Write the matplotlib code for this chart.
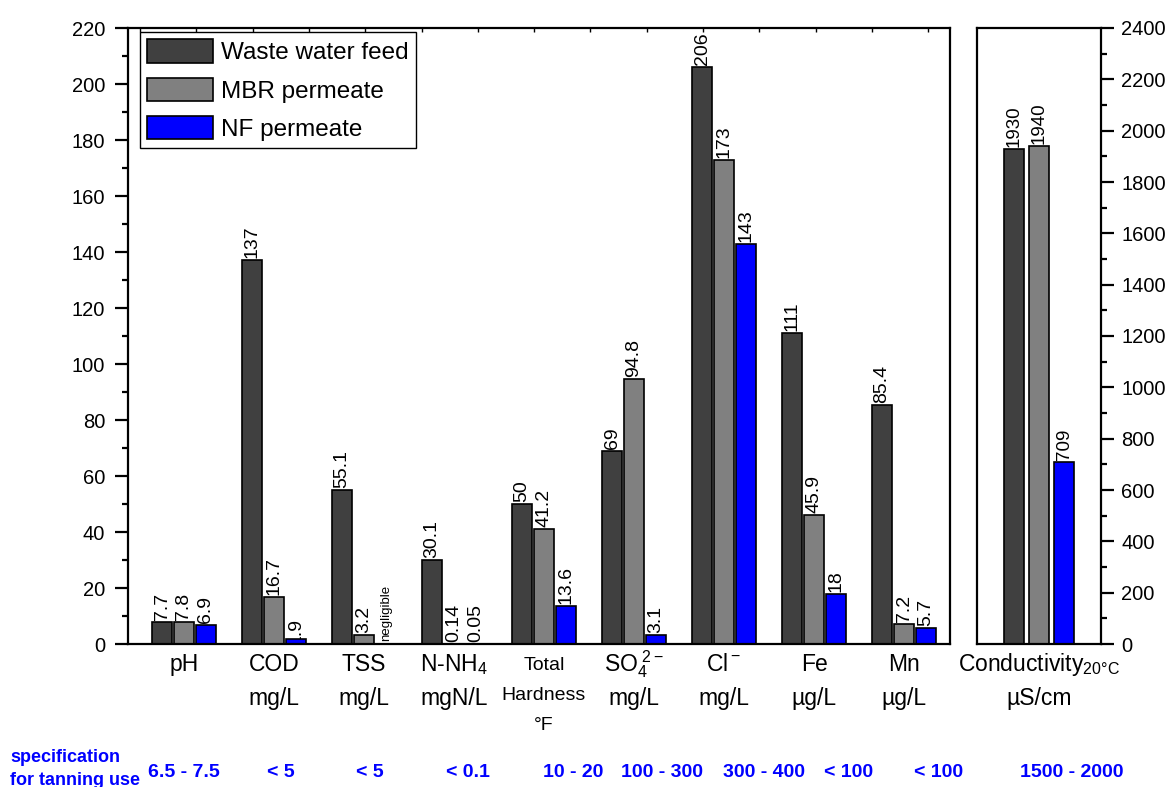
import matplotlib

matplotlib.use("Agg")
import matplotlib.pyplot as plt  # noqa: E402
import numpy as np  # noqa: E402
from matplotlib.patches import Patch  # noqa: E402
from matplotlib.ticker import MultipleLocator  # noqa: E402

plt.rcParams["font.family"] = ["Liberation Sans", "DejaVu Sans"]
plt.rcParams["mathtext.fontset"] = "custom"
plt.rcParams["mathtext.rm"] = "Liberation Sans"
plt.rcParams["mathtext.it"] = "Liberation Sans:italic"
plt.rcParams["mathtext.bf"] = "Liberation Sans:bold"

# ---- data -------------------------------------------------------------
SERIES = ["Waste water feed", "MBR permeate", "NF permeate"]
COLORS = ["#404040", "#808080", "#0000FF"]

CATEGORIES = ["pH", "COD", "TSS", "N-NH4", "Total Hardness", "SO4", "Cl", "Fe", "Mn"]
FEED = [7.7, 137, 55.1, 30.1, 50, 69, 206, 111, 85.4]
MBR = [7.8, 16.7, 3.2, 0.14, 41.2, 94.8, 173, 45.9, 7.2]
NF = [6.9, 1.9, 0.0, 0.05, 13.6, 3.1, 143, 18, 5.7]
FEED_LABELS = ["7.7", "137", "55.1", "30.1", "50", "69", "206", "111", "85.4"]
MBR_LABELS = ["7.8", "16.7", "3.2", "0.14", "41.2", "94.8", "173", "45.9", "7.2"]
NF_LABELS = ["6.9", "1.9", "negligible", "0.05", "13.6", "3.1", "143", "18", "5.7"]

COND = [1930, 1940, 709]
COND_LABELS = ["1930", "1940", "709"]

CAT_LINES = [
    ["pH"],
    ["COD", "mg/L"],
    ["TSS", "mg/L"],
    ["N-NH$_4$", "mgN/L"],
    ["Total", "Hardness", "°F"],
    ["SO$_4^{\\ 2-}$", "mg/L"],
    ["Cl$^-$", "mg/L"],
    ["Fe", "µg/L"],
    ["Mn", "µg/L"],
]
COND_LINES = ["Conductivity$_{\\mathrm{20°C}}$", "µS/cm"]

SPEC_TITLE = ["specification", "for tanning use"]
SPEC = ["6.5 - 7.5", "< 5", "< 5", "< 0.1", "10 - 20", "100 - 300",
        "300 - 400", "< 100", "< 100", "1500 - 2000"]

# ---- layout -----------------------------------------------------------
W, H = 1168, 787
SPEC_X_PX = [184, 281, 370, 468, 573, 662, 764, 849, 939, 1072]
BAR_W = 0.228
PITCH = 0.244
LABEL_FS = 14


def style_axis(ax, pad):
    for sp in ax.spines.values():
        sp.set_linewidth(1.6)
    ax.tick_params(axis="y", which="major", direction="out", length=9.5,
                   width=1.6, labelsize=14.5, pad=pad)
    ax.tick_params(axis="y", which="minor", direction="out", length=4.5,
                   width=1.6)


fig = plt.figure(figsize=(W / 100, H / 100), dpi=100)
bottom = (H - 644) / H
height = (644 - 28) / H
ax = fig.add_axes([128 / W, bottom, (950 - 128) / W, height])
ax2 = fig.add_axes([977 / W, bottom, (1101 - 977) / W, height])

xs = list(range(1, len(CATEGORIES) + 1))
for k, (vals, labels) in enumerate([(FEED, FEED_LABELS), (MBR, MBR_LABELS), (NF, NF_LABELS)]):
    off = (k - 1) * PITCH
    pos = [x + off for x in xs]
    ax.bar(pos, vals, width=BAR_W, color=COLORS[k], edgecolor="black",
           linewidth=1.2, zorder=2)
    for x, v, lab in zip(pos, vals, labels):
        dy, fs, z = 2, LABEL_FS, 3
        if lab == "negligible":
            dy, fs = 3, 9.5
        elif lab == "1.9":
            dy, z = -6, 1
        ax.annotate(lab, (x, v), xytext=(0, dy), textcoords="offset pixels",
                    rotation=90, ha="center", va="bottom", fontsize=fs,
                    zorder=z, annotation_clip=False, clip_on=True)

XMIN, XMAX = 0.378, 9.511
ax.set_xlim(XMIN, XMAX)
ax.set_ylim(0, 220)
ax.yaxis.set_major_locator(MultipleLocator(20))
ax.yaxis.set_minor_locator(MultipleLocator(10))
# small inward ticks along the top frame
ax.set_xticks(np.arange(XMIN + 12 / 90, XMAX, 56.3 / 90))
ax.tick_params(axis="x", bottom=False, top=True, labelbottom=False,
               direction="in", length=3, width=1)
style_axis(ax, pad=7)

cpos = [-PITCH * 1.14, 0, PITCH * 1.14]
for k in range(3):
    ax2.bar(cpos[k], COND[k], width=BAR_W, color=COLORS[k], edgecolor="black",
            linewidth=1.2, zorder=2)
    ax2.annotate(COND_LABELS[k], (cpos[k], COND[k]), xytext=(0, 2),
                 textcoords="offset pixels", rotation=90, ha="center",
                 va="bottom", fontsize=13.5)
ax2.set_xlim(-0.689, 0.689)
ax2.set_ylim(0, 2400)
ax2.yaxis.set_major_locator(MultipleLocator(200))
ax2.yaxis.set_minor_locator(MultipleLocator(100))
ax2.yaxis.tick_right()
ax2.set_xticks([])
style_axis(ax2, pad=5)

# category labels under the bars
for x, lines in zip(xs, CAT_LINES):
    small = len(lines) == 3
    offsets = [26, 56, 86] if small else [27, 61]
    for line, dy in zip(lines, offsets):
        ax.annotate(line, (x, 0), xycoords=("data", "axes fraction"),
                    xytext=(0, -dy), textcoords="offset pixels", ha="center",
                    va="baseline", fontsize=14 if small else 16.5,
                    annotation_clip=False)
for line, dy in zip(COND_LINES, [27, 61]):
    ax2.annotate(line, (0, 0), xycoords=("data", "axes fraction"),
                 xytext=(0, -dy), textcoords="offset pixels", ha="center",
                 va="baseline", fontsize=16.5, annotation_clip=False)

# specification row
for line, yb in zip(SPEC_TITLE, [762, 785]):
    fig.text(10 / W, 1 - yb / H, line, color="#0000FF", fontsize=13,
             fontweight="bold", ha="left", va="baseline")
for xp, s in zip(SPEC_X_PX, SPEC):
    fig.text(xp / W, 1 - 777 / H, s, color="#0000FF", fontsize=14,
             fontweight="bold", ha="center", va="baseline")

handles = [Patch(facecolor=c, edgecolor="black", linewidth=1.2) for c in COLORS]
leg = ax.legend(handles, SERIES, loc="upper left", bbox_to_anchor=(0.0146, 0.9935),
                fontsize=17.5, handlelength=2.7, handleheight=1.1,
                labelspacing=0.55, handletextpad=0.35, borderpad=0.3,
                borderaxespad=0, fancybox=False, framealpha=1)
leg.get_frame().set_edgecolor("black")
leg.get_frame().set_linewidth(1.0)

fig.savefig("out.png", dpi=100)
